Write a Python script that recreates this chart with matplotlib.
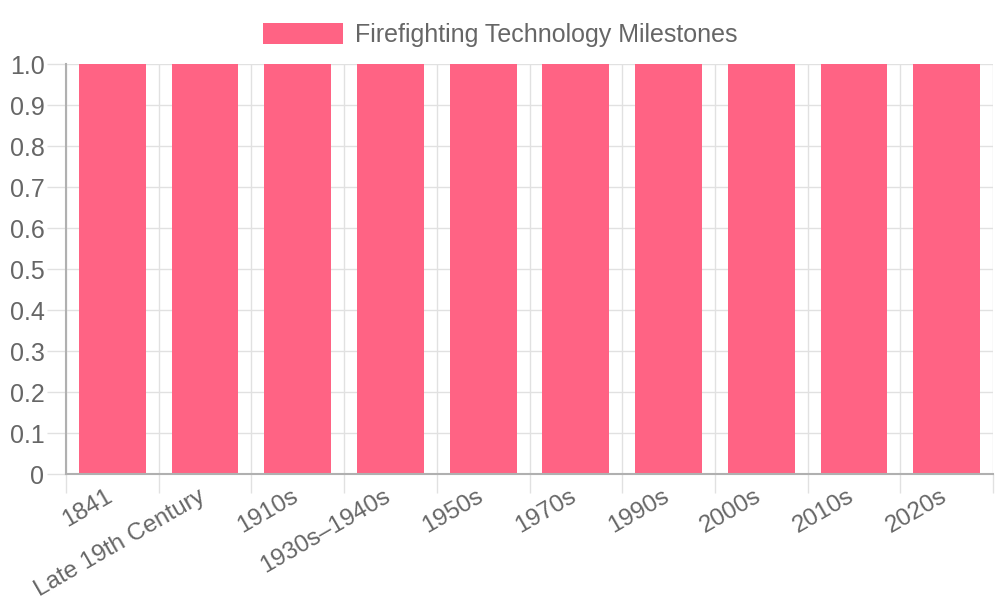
import matplotlib.pyplot as plt
import numpy as np
from matplotlib import ticker
from matplotlib.transforms import ScaledTranslation

plt.rc('font', family=['Liberation Sans', 'DejaVu Sans'])

# data
periods = ['1841', 'Late 19th Century', '1910s', '1930s\u20131940s', '1950s',
           '1970s', '1990s', '2000s', '2010s', '2020s']
milestone = [1, 1, 1, 1, 1, 1, 1, 1, 1, 1]
series_name = 'Firefighting Technology Milestones'

bar_color = '#FF6384'
text_color = '#666666'
grid_color = '#e1e1e1'
axis_color = '#b0b0b0'

fig = plt.figure(figsize=(10, 6), dpi=100)
ax = fig.add_axes([0.066, 0.21, 0.927, 0.6833])

x = np.arange(len(periods))
ax.bar(x, milestone, width=0.72, color=bar_color, label=series_name, zorder=3)

ax.set_xlim(-0.5, len(periods) - 0.5)
ax.set_ylim(0, 1.0)

# boundaries carry the grid and tick marks, centres carry the labels
ax.set_xticks(np.arange(-0.5, len(periods), 1.0))
ax.set_xticklabels([])
ax.set_xticks(x, periods, minor=True)
ax.tick_params(axis='x', which='major', length=14, width=1, color=grid_color)
ax.tick_params(axis='x', which='minor', length=0, pad=8, labelsize=17.5,
               labelcolor=text_color)
shift = ScaledTranslation(-7 / 100, 0, fig.dpi_scale_trans)
for lab in ax.get_xticklabels(minor=True):
    lab.set_rotation(30)
    lab.set_ha('right')
    lab.set_va('top')
    lab.set_rotation_mode('anchor')
    lab.set_transform(lab.get_transform() + shift)

ax.set_yticks(np.arange(0, 1.01, 0.1))
ax.yaxis.set_major_formatter(ticker.FuncFormatter(
    lambda v, p: '0' if abs(v) < 1e-9 else '%.1f' % v))
ax.tick_params(axis='y', length=14, width=1, color=grid_color, pad=1.5,
               labelsize=18, labelcolor=text_color)

ax.grid(True, which='major', color=grid_color, linewidth=1, zorder=0)
ax.set_axisbelow(True)

for s in ['top', 'right']:
    ax.spines[s].set_visible(False)
for s in ['left', 'bottom']:
    ax.spines[s].set_color(axis_color)
    ax.spines[s].set_linewidth(1.5)
    ax.spines[s].set_zorder(4)

fig.legend(loc='upper center', bbox_to_anchor=(0.5, 1.0), frameon=False,
           fontsize=18, labelcolor=text_color, handlelength=3.2,
           handleheight=0.96, handletextpad=0.5)

plt.savefig('out.png', dpi=100)
